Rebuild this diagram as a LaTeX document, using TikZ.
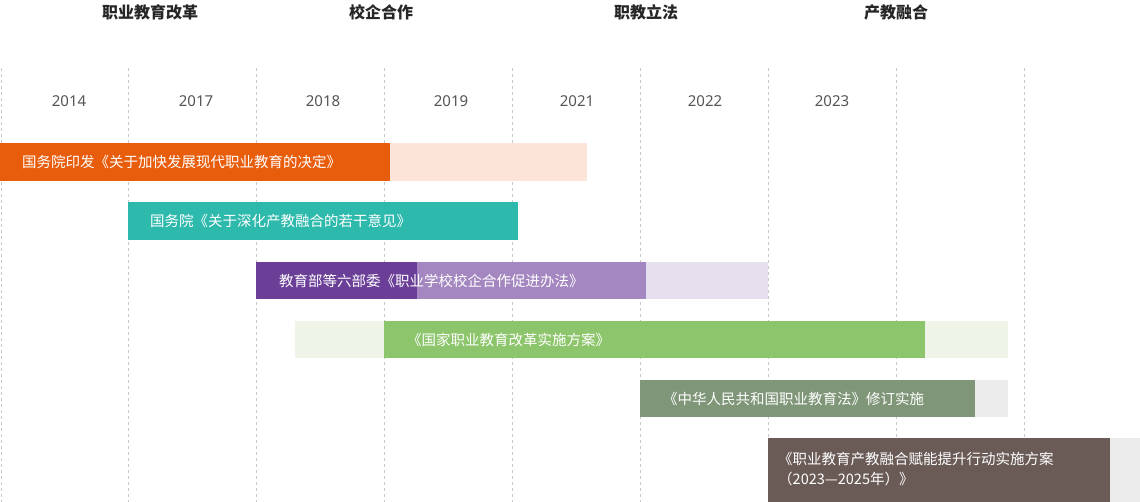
\documentclass[tikz,border=0pt]{standalone}
\usepackage{fontspec}
\setmainfont{Noto Sans CJK SC}
\newfontfamily\yearfont{Noto Sans}
\definecolor{cOrange}{HTML}{E85D0C}
\definecolor{cOrangeL}{HTML}{FCE5D8}
\definecolor{cTeal}{HTML}{2DB9AC}
\definecolor{cPurpleD}{HTML}{6B3F98}
\definecolor{cPurpleM}{HTML}{A487C0}
\definecolor{cPurpleL}{HTML}{E6DFEE}
\definecolor{cGreen}{HTML}{8DC56C}
\definecolor{cGreenL}{HTML}{EEF5E8}
\definecolor{cSage}{HTML}{7F9678}
\definecolor{cGrayL}{HTML}{EBEBEB}
\definecolor{cBrown}{HTML}{6A5B57}
\definecolor{cText}{HTML}{555555}
\definecolor{cGrid}{HTML}{C8C8C8}
\tikzset{
  head/.style={font=\fontsize{16}{18}\selectfont\bfseries, text=black!85},
  year/.style={font=\yearfont\fontsize{15}{17}\selectfont, text=cText},
  bartext/.style={anchor=west, text=white, font=\fontsize{14.5}{20}\selectfont, inner sep=0pt, align=left},
  grid/.style={cGrid, dashed, line width=0.6pt}
}
\begin{document}
\begin{tikzpicture}[x=1pt,y=-1pt]
  \useasboundingbox (0,0) rectangle (1140,502);
  % grid
  \foreach \gx in {1,128,256,384,512,640,768,896,1024}
    \draw[grid] (\gx,68) -- (\gx,502);
  % headings
  \node[head] (h1) at (150,12) {职业教育改革};
  \node[head] (h2) at (381,12) {校企合作};
  \node[head] (h3) at (646,12) {职教立法};
  \node[head] (h4) at (896,12) {产教融合};
  % years
  \foreach \yx/\yr in {69/2014,196/2017,323/2018,451/2019,577/2021,705/2022,832/2023}
    \node[year] (y\yr) at (\yx,101) {\yr};
  % bars
  \fill[cOrangeL] (390,143) rectangle (587,181);
  \fill[cOrange] (0,143) rectangle (390,181);
  \fill[cTeal] (128,202) rectangle (518,240);
  \fill[cPurpleL] (646,262) rectangle (768,299);
  \fill[cPurpleM] (417,262) rectangle (646,299);
  \fill[cPurpleD] (256,262) rectangle (417,299);
  \fill[cGreenL] (295,321) rectangle (1008,358);
  \fill[cGreen] (384,321) rectangle (925,358);
  \fill[cGrayL] (975,380) rectangle (1008,417);
  \fill[cSage] (640,380) rectangle (975,417);
  \fill[cGrayL] (1110,438) rectangle (1140,502);
  \fill[cBrown] (768,438) rectangle (1110,502);
  % labels
  \node[bartext] (b1) at (22,162) {国务院印发《关于加快发展现代职业教育的决定》};
  \node[bartext] (b2) at (150,221) {国务院《关于深化产教融合的若干意见》};
  \node[bartext] (b3) at (279,280.5) {教育部等六部委《职业学校校企合作促进办法》};
  \node[bartext] (b4) at (407,339.5) {《国家职业教育改革实施方案》};
  \node[bartext] (b5) at (663,398.5) {《中华人民共和国职业教育法》修订实施};
  \node[bartext] (b6) at (778,469) {《职业教育产教融合赋能提升行动实施方案\\（2023—2025年）》};
\end{tikzpicture}
\end{document}
